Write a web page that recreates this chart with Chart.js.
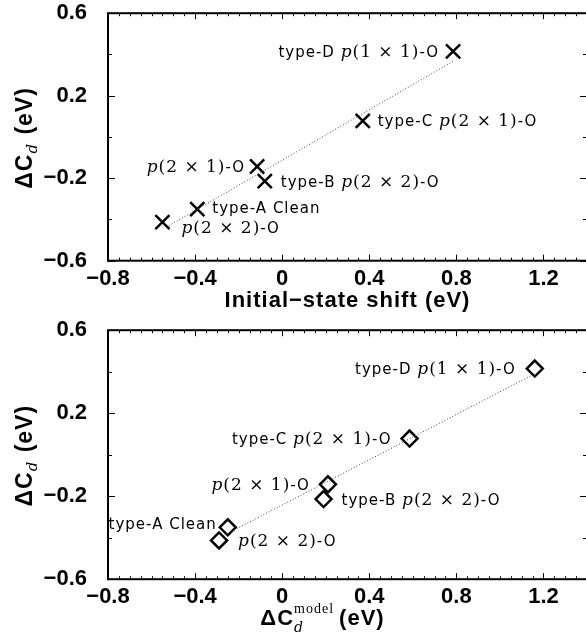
<!DOCTYPE html>
<html>
<head>
<meta charset="utf-8">
<script src="https://cdn.jsdelivr.net/npm/chart.js@4.4.0/dist/chart.umd.min.js"></script>
<style>
html, body { margin: 0; padding: 0; background: #fff; overflow: hidden; width: 586px; height: 641px; }
canvas { position: absolute; left: 0; top: 0; }
</style>
</head>
<body>
<canvas id="graph-top" width="600" height="340"></canvas>
<canvas id="graph-bottom" width="600" height="340"></canvas>
<script>
// ** DATA: ** //

var structures = ['type-D p(1 × 1)-O', 'type-C p(2 × 1)-O', 'p(2 × 1)-O', 'type-B p(2 × 2)-O', 'type-A Clean', 'p(2 × 2)-O'];
var deltaCd = [0.415, 0.078, -0.143, -0.214, -0.35, -0.413];
var initialShift = [0.785, 0.37, -0.115, -0.08, -0.39, -0.55];
var deltaCdModel = [1.16, 0.585, 0.21, 0.19, -0.25, -0.29];

// dotted fit lines (end points)
var fitTopX = [-0.52, 0.79];
var fitTopY = [-0.43, 0.37];
var fitBottomX = [-0.27, 1.15];
var fitBottomY = [-0.39, 0.385];

var xTickLabels = ['−0.8', '−0.4', '0', '0.4', '0.8', '1.2'];
var yTickLabels = ['−0.6', '−0.2', '0.2', '0.6'];

// ** STYLE: ** //

// label offset from its marker: [dx, dy, align]
var topOffsets = [[-14, 0, 'right'], [15, 0, 'left'], [-12, 0, 'right'], [16, 0, 'left'], [15, -2, 'left'], [19, 5, 'left']];
var bottomOffsets = [[-19, 0, 'right'], [-18, 0, 'right'], [-18, 0, 'right'], [18, 0, 'left'], [-11, -4, 'right'], [19, 0, 'left']];

var labelFonts = {
	sans: '15px "DejaVu Sans"',
	ital: 'italic 17px "DejaVu Serif"',
	serif: '17px "DejaVu Serif"'
};
var boldFont = 'bold 22px "Liberation Sans"';
var yTitleFont = 'bold 23px "Liberation Sans"';
var tickFont = {family: 'Liberation Sans', size: 22, weight: 'bold'};

// ** FUNCTIONS: ** //

function toPoints(xs, ys) {
	var pts = [];
	for (var i = 0; i < xs.length; i++) {
		pts.push({x: xs[i], y: ys[i]});
	}
	return pts;
}

function splitLabel(s) {
	var k = s.indexOf('p(');
	if (k < 0) return [{t: s, f: labelFonts.sans}];
	var close = s.indexOf(')', k);
	var segs = [];
	if (k > 0) segs.push({t: s.slice(0, k), f: labelFonts.sans});
	segs.push({t: 'p', f: labelFonts.ital});
	segs.push({t: s.slice(k + 1, close + 1), f: labelFonts.serif});
	segs.push({t: s.slice(close + 1), f: labelFonts.sans});
	return segs;
}

function segWidth(ctx, segs) {
	var w = 0, stackW = 0;
	for (var i = 0; i < segs.length; i++) {
		ctx.font = segs[i].f;
		var sw = ctx.measureText(segs[i].t).width;
		if (segs[i].stack) { stackW = Math.max(stackW, sw); continue; }
		if (stackW) { w += Math.max(stackW, sw) + (segs[i].gap || 0); stackW = 0; } else { w += sw + (segs[i].gap || 0); }
	}
	return w + stackW;
}

function drawSegs(ctx, segs, x, y) {
	var stackW = 0;
	for (var i = 0; i < segs.length; i++) {
		ctx.font = segs[i].f;
		ctx.fillText(segs[i].t, x, y + (segs[i].dy || 0));
		var sw = ctx.measureText(segs[i].t).width;
		if (segs[i].stack) { stackW = Math.max(stackW, sw); continue; }
		if (stackW) { x += Math.max(stackW, sw) + (segs[i].gap || 0); stackW = 0; } else { x += sw + (segs[i].gap || 0); }
	}
}

function makeAnnotations(offsets, xTitle, xTitleShift, yTitle) {
	return {
		id: 'annotations',
		afterDatasetsDraw: function(chart) {
			var ctx = chart.ctx, a = chart.chartArea;
			var xs = chart.scales.x, ys = chart.scales.y;
			ctx.save();
			ctx.fillStyle = '#000';
			ctx.strokeStyle = '#000';

			// frame
			ctx.lineWidth = 2;
			ctx.strokeRect(a.left, a.top, a.right - a.left, a.bottom - a.top);

			// inward ticks
			ctx.lineWidth = 1;
			ctx.beginPath();
			for (var i = -16; i <= 28; i++) {
				var px = Math.round(xs.getPixelForValue(i * 0.05)) + 0.5;
				var len = (i % 8 === 0) ? 6 : 3;
				ctx.moveTo(px, a.bottom); ctx.lineTo(px, a.bottom - len);
				ctx.moveTo(px, a.top); ctx.lineTo(px, a.top + len);
			}
			for (var j = -3; j <= 3; j++) {
				var py = Math.round(ys.getPixelForValue(j * 0.2)) + 0.5;
				var len2 = (j % 2 !== 0) ? 7 : 4;
				ctx.moveTo(a.left, py); ctx.lineTo(a.left + len2, py);
				ctx.moveTo(a.right, py); ctx.lineTo(a.right - len2, py);
			}
			ctx.stroke();

			// point labels
			ctx.letterSpacing = '1px';
			ctx.textBaseline = 'alphabetic';
			ctx.textAlign = 'left';
			var meta = chart.getDatasetMeta(1);
			for (var k = 0; k < structures.length; k++) {
				var el = meta.data[k];
				var segs = splitLabel(structures[k]);
				var w = segWidth(ctx, segs);
				var off = offsets[k];
				var sx = off[2] === 'right' ? el.x + off[0] - w : el.x + off[0];
				drawSegs(ctx, segs, sx, el.y + off[1] + 5.5);
			}

			// x title
			var cx = (a.left + a.right) / 2 + xTitleShift;
			var tw = segWidth(ctx, xTitle);
			drawSegs(ctx, xTitle, cx - tw / 2, a.bottom + 46);

			// y title
			ctx.translate(32, (a.top + a.bottom) / 2 + 1);
			ctx.rotate(-Math.PI / 2);
			var yw = segWidth(ctx, yTitle);
			drawSegs(ctx, yTitle, -yw / 2, 0);
			ctx.restore();
		}
	};
}

function generateGraph(graphID, xValues, fitX, fitY, pointStyle, radius, offsets, xTitle, xTitleShift, areaTop, areaBottom) {
	var yTitle = [
		{t: 'ΔC', f: yTitleFont},
		{t: 'd', f: 'italic 15px "DejaVu Serif"', dy: 5, gap: 1},
		{t: ' (eV)', f: yTitleFont}
	];
	var fit = {xh: 60};
	var graph = document.getElementById(graphID);
	var chart = new Chart(graph, {
		type: 'scatter',
		data: {
			datasets: [{
				type: 'line',
				data: toPoints(fitX, fitY),
				borderColor: '#444',
				borderWidth: 1,
				borderDash: [1, 2],
				pointRadius: 0,
				fill: false
			}, {
				data: toPoints(xValues, deltaCd),
				pointStyle: pointStyle,
				pointRadius: radius,
				borderColor: '#000',
				backgroundColor: 'rgba(255,255,255,0)',
				borderWidth: 2.5
			}]
		},
		options: {
			responsive: false,
			animation: false,
			devicePixelRatio: 1,
			layout: {padding: {left: 0, right: 13, top: 0, bottom: 0}},
			plugins: {legend: {display: false}, tooltip: {enabled: false}},
			scales: {
				x: {
					type: 'linear',
					min: -0.8,
					max: 1.4,
					grid: {display: false},
					border: {display: false},
					ticks: {
						stepSize: 0.4,
						includeBounds: false,
						autoSkip: false,
						maxRotation: 0,
						padding: -3,
						color: '#000',
						font: tickFont,
						callback: function(v) {
							var idx = Math.round((v + 0.8) / 0.4);
							if (Math.abs(v - (-0.8 + idx * 0.4)) > 1e-6) return '';
							return xTickLabels[idx] || '';
						}
					},
					afterFit: function(s) { s.height = fit.xh; }
				},
				y: {
					type: 'linear',
					min: -0.6,
					max: 0.6,
					grid: {display: false},
					border: {display: false},
					ticks: {
						stepSize: 0.4,
						padding: 13,
						color: '#000',
						font: tickFont,
						callback: function(v) {
							var idx = Math.round((v + 0.6) / 0.4);
							return yTickLabels[idx] || '';
						}
					},
					afterFit: function(s) { s.width = 108; }
				}
			}
		},
		plugins: [makeAnnotations(offsets, xTitle, xTitleShift, yTitle)]
	});

	// size the plot box, then slide the canvas so the box sits where the reference has it
	var a = chart.chartArea;
	fit.xh -= (areaBottom - areaTop) - (a.bottom - a.top);
	chart.update();
	graph.style.top = Math.round(areaTop - chart.chartArea.top) + 'px';
	return chart;
}

// ** ENTRY POINT: ** //

var topTitle = [{t: 'Initial−state shift (eV)', f: boldFont}];
var bottomTitle = [
	{t: 'ΔC', f: boldFont},
	{t: 'd', f: 'italic 14px "DejaVu Serif"', dy: 7, stack: true},
	{t: 'model', f: '14px "Liberation Serif"', dy: -12, gap: 5},
	{t: '(eV)', f: boldFont}
];

generateGraph('graph-top', initialShift, fitTopX, fitTopY, 'crossRot', 10, topOffsets, topTitle, 0, 13.5, 261);
generateGraph('graph-bottom', deltaCdModel, fitBottomX, fitBottomY, 'rectRot', 8, bottomOffsets, bottomTitle, -25, 330, 579);
</script>
</body>
</html>
